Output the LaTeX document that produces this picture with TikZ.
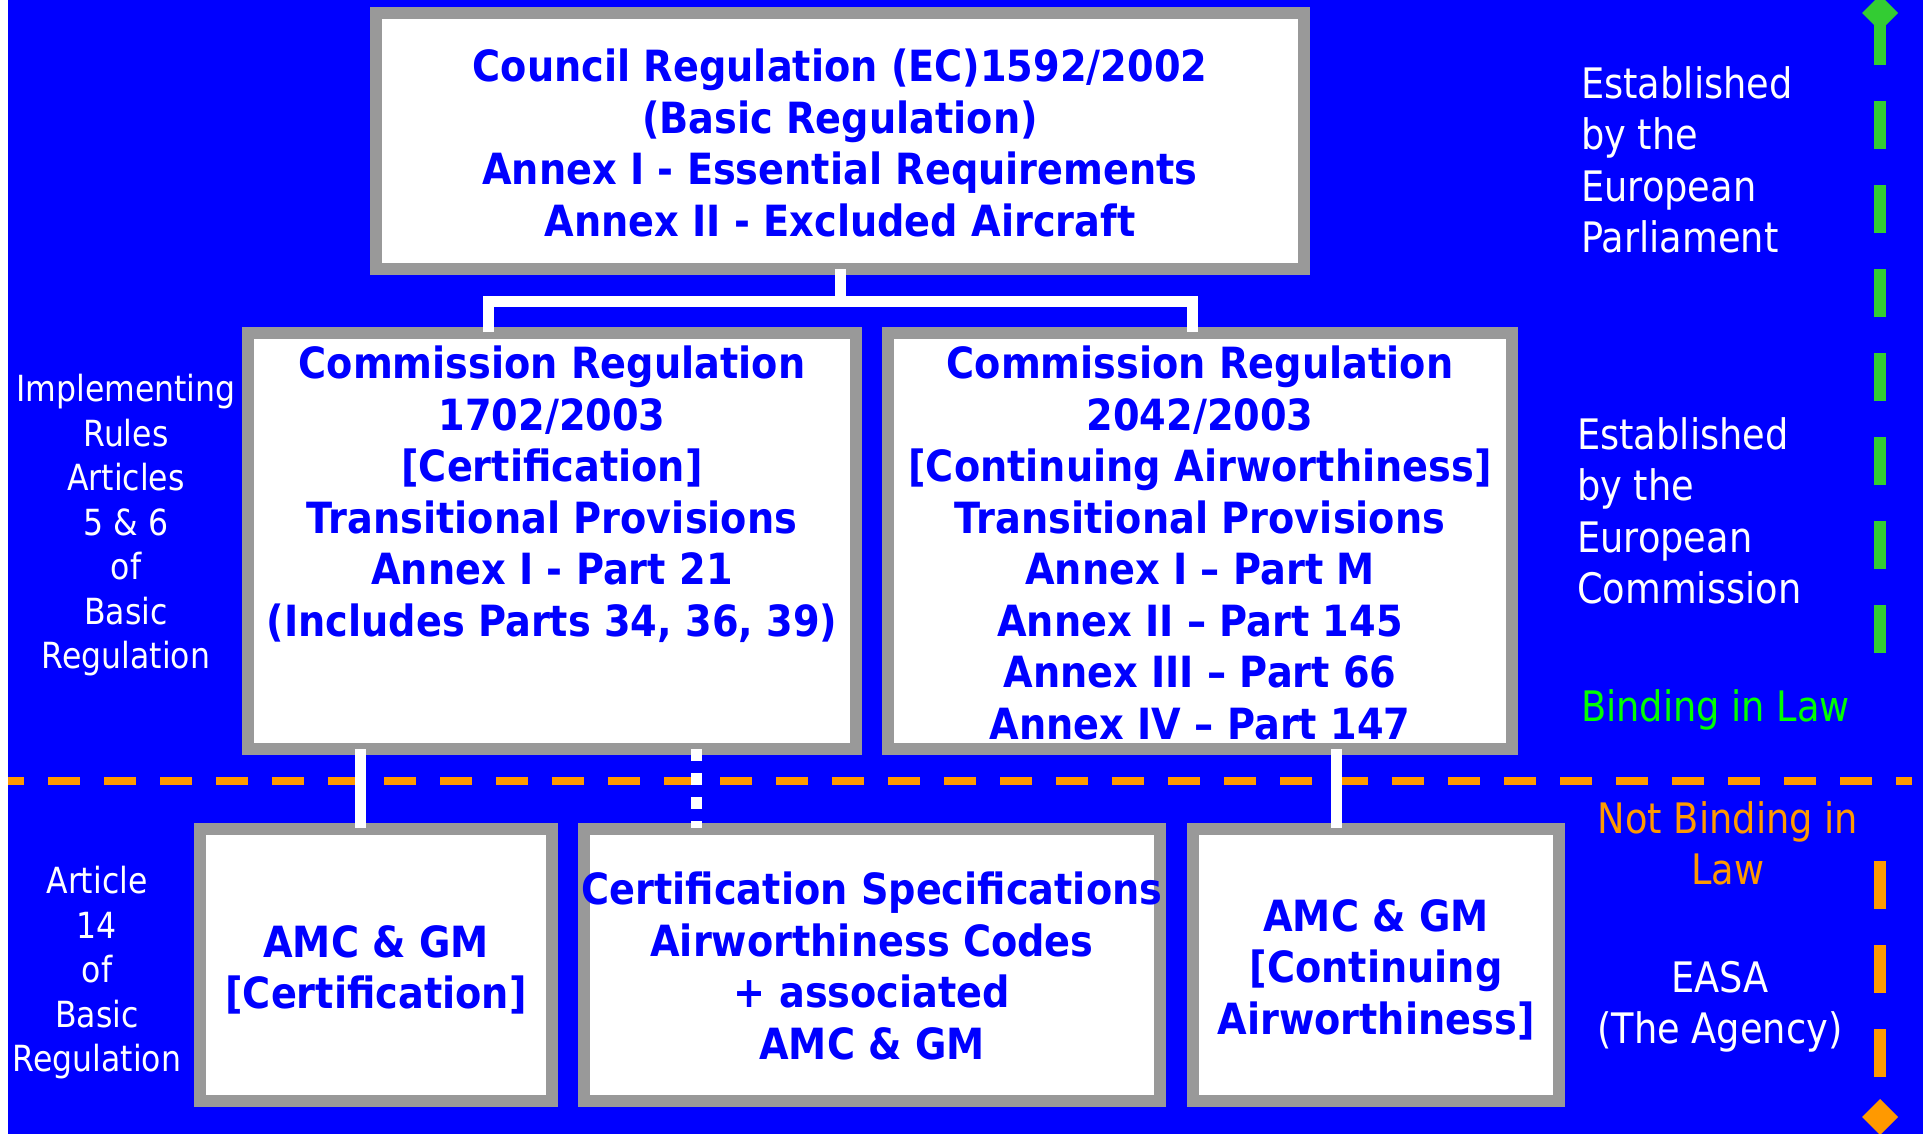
\documentclass[tikz,border=0pt]{standalone}
\usepackage{fontspec}
\newfontfamily\rfnt{DejaVu Sans}[FakeStretch=0.875]
\newfontfamily\bfnt{DejaVu Sans}[FakeStretch=0.89]
\usetikzlibrary{calc}
\definecolor{bgblue}{HTML}{0000FF}
\definecolor{boxgray}{HTML}{999999}
\definecolor{orng}{HTML}{FF9900}
\definecolor{grn}{HTML}{33CC33}
\definecolor{lgrn}{HTML}{00FF00}
\begin{document}
\begin{tikzpicture}[x=1pt,y=-1pt,
  box/.style={rectangle, draw=boxgray, line width=12pt, fill=white, inner sep=0pt},
  btxt/.style={anchor=north, inner sep=0pt, align=center, text=bgblue,
    font=\bfnt\bfseries\fontsize{43}{51.5}\selectfont, execute at begin node=\strut},
  ltxt/.style={anchor=north, inner sep=0pt, align=center, text=white,
    font=\rfnt\fontsize{36}{44.5}\selectfont, execute at begin node=\strut},
  rtxt/.style={inner sep=0pt, font=\rfnt\fontsize{42}{51.5}\selectfont, execute at begin node=\strut},
  conn/.style={draw=white, line width=11pt, line join=miter},
  legend/.style={line width=12pt, dash pattern=on 48pt off 36pt}
]
\useasboundingbox (0,0) rectangle (1923,1134);
\fill[white] (0,0) rectangle (1923,1134);
\fill[bgblue] (8,0) rectangle (1923,1134);

% orange dividing line
\coordinate (dl0) at (8,780.5);
\coordinate (dl1) at (1912,780.5);
\draw[orng, line width=8pt, dash pattern=on 32pt off 24pt, dash phase=16pt] (dl0) -- (dl1);

% boxes
\node[box, minimum width=928pt, minimum height=256pt] (top) at (840,141) {};
\node[box, minimum width=608pt, minimum height=416pt] (midL) at (552,541) {};
\node[box, minimum width=624pt, minimum height=416pt] (midR) at (1200,541) {};
\node[box, minimum width=352pt, minimum height=272pt] (botL) at (376,965) {};
\node[box, minimum width=576pt, minimum height=272pt] (botM) at (872,965) {};
\node[box, minimum width=366pt, minimum height=272pt] (botR) at (1376,965) {};

% connectors
\coordinate (jL) at (488,301);
\coordinate (jR) at (1192,301);
\draw[conn, shorten <=-6pt] (top.south) -- (top.south |- jL);
\draw[conn, shorten <=-5pt, shorten >=-5pt] (jL |- midL.north) -- (jL) -- (jR) -- (jR |- midR.north);
\coordinate (sL) at (360,0);
\coordinate (sM) at (696,0);
\coordinate (sR) at (1336,0);
\draw[conn, shorten <=-6pt, shorten >=-5pt] (sL |- midL.south) -- (sL |- botL.north);
\draw[conn, dash pattern=on 12pt off 12pt, shorten <=-6pt, shorten >=-5pt] (sM |- midL.south) -- (sM |- botM.north);
\draw[conn, shorten <=-6pt, shorten >=-5pt] (sR |- midR.south) -- (sR |- botR.north);

% box texts
\node[btxt] (topT) at (840,49) {Council Regulation (EC)1592/2002\\(Basic Regulation)\\Annex I - Essential Requirements\\Annex II - Excluded Aircraft};
\node[btxt] (midLT) at (552,346) {Commission Regulation\\1702/2003\\{[Certification]}\\Transitional Provisions\\Annex I - Part 21\\(Includes Parts 34, 36, 39)};
\node[btxt] (midRT) at (1200,346) {Commission Regulation\\2042/2003\\{[Continuing Airworthiness]}\\Transitional Provisions\\Annex I – Part M\\Annex II – Part 145\\Annex III – Part 66\\Annex IV – Part 147};
\node[btxt] (botLT) at (376,925) {AMC \& GM\\{[Certification]}};
\node[btxt] (botMT) at (872,872) {Certification Specifications\\Airworthiness Codes\\+ associated\\AMC \& GM};
\node[btxt] (botRT) at (1376,899) {AMC \& GM\\{[Continuing}\\Airworthiness]};

% left labels
\node[ltxt] (implT) at (126,374) {Implementing\\Rules\\Articles\\5 \& 6\\of\\Basic\\Regulation};
\node[ltxt] (artT) at (97,866) {Article\\14\\of\\Basic\\Regulation};

% right labels
\node[rtxt, anchor=north west, align=left, text=white] (parlT) at (1581,66) {Established\\by the\\European\\Parliament};
\node[rtxt, anchor=north west, align=left, text=white] (commT) at (1577,417) {Established\\by the\\European\\Commission};
\node[rtxt, anchor=north west, align=left, text=lgrn] (bindT) at (1581,685) {Binding in Law};
\node[rtxt, anchor=north, align=center, text=orng] (nbindT) at (1728,801) {Not Binding in\\Law};
\node[rtxt, anchor=north, align=center, text=white] (easaT) at (1720,961) {EASA\\(The Agency)};

% green legend arrow
\coordinate (g0) at (1880,653);
\coordinate (g1) at (1880,13);
\draw[legend, grn] (g0) -- (g1);
\fill[grn] (g1) ++(0,-18) -- ++(18,18) -- ++(-18,18) -- ++(-18,-18) -- cycle;

% orange legend arrow
\coordinate (o0) at (1880,861);
\coordinate (o1) at (1880,1117);
\draw[legend, orng] (o0) -- (o1);
\fill[orng] (o1) ++(0,-18) -- ++(18,18) -- ++(-18,18) -- ++(-18,-18) -- cycle;
\end{tikzpicture}
\end{document}
